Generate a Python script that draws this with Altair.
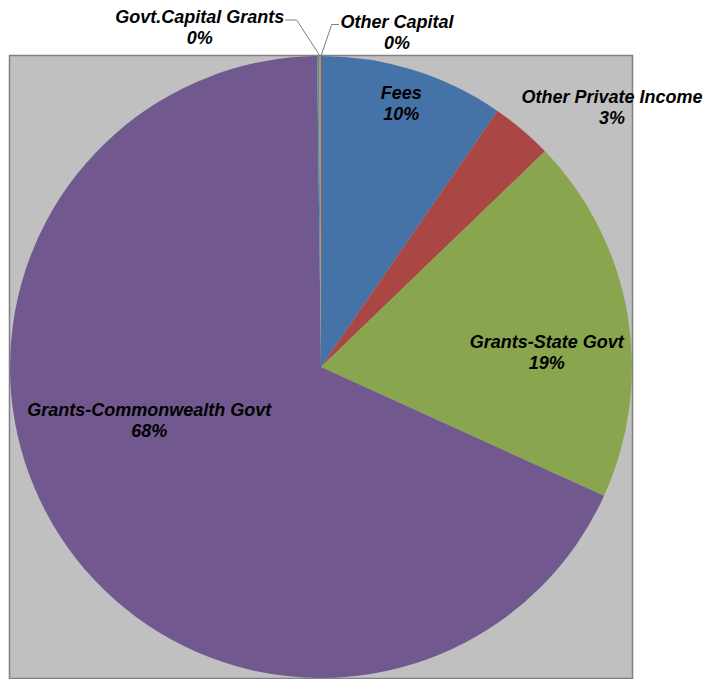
import altair as alt
import pandas as pd

# ---- data ----
categories = [
    "Fees",
    "Other Private Income",
    "Grants-State Govt",
    "Grants-Commonwealth Govt",
    "Govt.Capital Grants",
    "Other Capital",
]
shares = [9.6, 3.2, 19.0, 68.0, 0.1, 0.1]
colors = ["#4572A7", "#AA4643", "#89A54E", "#71588F", "#4198AF", "#DB843D"]

total = sum(shares)
pct_labels = [f"{round(v / total * 100):.0f}%" for v in shares]

df = pd.DataFrame({
    "name": categories,
    "value": shares,
    "idx": list(range(len(categories))),
    "label": [f"{c}\n{p}" for c, p in zip(categories, pct_labels)],
})

# ---- styling: label placement (radius from centre + nudge) ----
LABEL_STYLE = {
    "Fees": dict(radius=277, dx=-2, dy=-9),
    "Other Private Income": dict(radius=350, dx=64.5, dy=-2),
    "Grants-State Govt": dict(radius=225, dx=4, dy=14),
    "Grants-Commonwealth Govt": dict(radius=180, dx=-21, dy=-54),
    "Govt.Capital Grants": dict(radius=342, dx=-118, dy=-7),
    "Other Capital": dict(radius=335, dx=77, dy=-9.5),
}

# leader lines (pixel positions inside the plot frame)
LEADERS = [
    dict(x=275.5, y=-35.5, x2=287.2, y2=-35.5),
    dict(x=287.2, y=-35.5, x2=310.5, y2=0.5),
    dict(x=322.2, y=-31, x2=329.5, y2=-31),
    dict(x=322.2, y=-31, x2=311.5, y2=0.5),
]

W = 623
H = 623
R = 311

theta = alt.Theta("value:Q", stack=True, scale=alt.Scale(domain=[0, total]))
order = alt.Order("idx:Q", sort="ascending")

base = alt.Chart(df)

pie = base.mark_arc(outerRadius=R, stroke=None).encode(
    theta=theta,
    order=order,
    color=alt.Color("name:N", scale=alt.Scale(domain=categories, range=colors), legend=None),
)

layers = [pie]
for name in categories:
    st = LABEL_STYLE[name]
    layers.append(
        base.transform_calculate(
            t=f"datum.name == '{name}' ? datum.label : ''"
        ).mark_text(
            radius=st["radius"], dx=st["dx"], dy=st["dy"],
            font="Liberation Sans", fontSize=18, fontWeight="bold", fontStyle="italic",
            color="#000000", align="center", baseline="middle",
            lineBreak="\n", lineHeight=21,
        ).encode(theta=theta, order=order, text="t:N")
    )

for ld in LEADERS:
    layers.append(
        alt.Chart(pd.DataFrame({"k": [0]})).mark_rule(color="#7f7f7f", strokeWidth=1).encode(
            x=alt.value(ld["x"]), y=alt.value(ld["y"]),
            x2=alt.value(ld["x2"]), y2=alt.value(ld["y2"]),
        )
    )

chart = alt.layer(*layers).properties(
    width=W,
    height=H,
    autosize=alt.AutoSizeParams(type="none"),
    padding={"left": 1.5, "top": 47.5, "right": 71.5, "bottom": 0},
    background="#FFFFFF",
).configure_view(
    fill="#C0C0C0",
    stroke="#808080",
    strokeWidth=1.5,
)

chart.save("out.html", embed_options={"renderer": "svg", "actions": False})
